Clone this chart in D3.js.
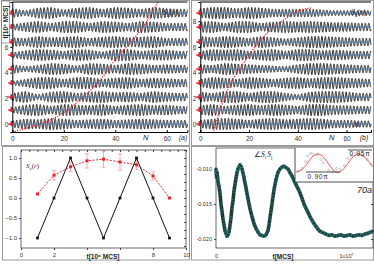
<!DOCTYPE html>
<html>
<head>
<meta charset="utf-8">
<script src="https://cdn.jsdelivr.net/npm/d3@7"></script>
<style>
  body { margin: 0; background: #fff; }
  svg { display: block; font-family: "Liberation Sans", Arial, sans-serif; }
</style>
</head>
<body>
<div id="chart"></div>
<script>
// ---- data ----
// panels (a),(b): time of each row [10^6 MCS]
const rowTimes = [0, 1.09, 2.1, 3.19, 4.28, 5.37, 6.38, 7.55, 8.64];
// envelope of Sz(r) oscillation for each row, sampled at N = 0,5,10,...,70
const envN = [0, 5, 10, 15, 20, 25, 30, 35, 40, 45, 50, 55, 60, 65, 70];
const envA = [
  [0.25, 0.4, 0.35, 0.45, 0.4, 0.3, 0.35, 0.4, 0.3, 0.35, 0.4, 0.35, 0.3, 0.3, 0.3],
  [0.2, 0.4, 0.45, 0.3, 0.45, 0.4, 0.35, 0.45, 0.3, 0.4, 0.45, 0.35, 0.4, 0.3, 0.3],
  [0.3, 0.45, 0.2, 0.4, 0.45, 0.3, 0.4, 0.45, 0.35, 0.4, 0.3, 0.45, 0.35, 0.3, 0.3],
  [0.15, 0.3, 0.45, 0.45, 0.3, 0.45, 0.45, 0.3, 0.4, 0.45, 0.3, 0.4, 0.35, 0.3, 0.3],
  [0.35, 0.2, 0.3, 0.45, 0.4, 0.25, 0.45, 0.4, 0.3, 0.45, 0.4, 0.3, 0.35, 0.3, 0.3],
  [0.2, 0.35, 0.45, 0.4, 0.3, 0.45, 0.4, 0.25, 0.45, 0.45, 0.3, 0.4, 0.4, 0.3, 0.3],
  [0.35, 0.3, 0.45, 0.35, 0.4, 0.45, 0.3, 0.4, 0.45, 0.35, 0.4, 0.45, 0.3, 0.3, 0.3],
  [0.2, 0.35, 0.45, 0.3, 0.45, 0.45, 0.3, 0.45, 0.4, 0.3, 0.45, 0.4, 0.3, 0.3, 0.3],
  [0.35, 0.2, 0.4, 0.45, 0.25, 0.4, 0.45, 0.3, 0.45, 0.4, 0.3, 0.45, 0.35, 0.3, 0.3]
];
const envB = [
  [0.3, 0.4, 0.45, 0.4, 0.3, 0.4, 0.45, 0.35, 0.4, 0.45, 0.4, 0.3, 0.3, 0.25, 0.25],
  [0.35, 0.45, 0.3, 0.4, 0.45, 0.35, 0.45, 0.4, 0.3, 0.45, 0.45, 0.35, 0.35, 0.3, 0.3],
  [0.4, 0.3, 0.45, 0.45, 0.3, 0.45, 0.45, 0.3, 0.2, 0.4, 0.45, 0.45, 0.4, 0.3, 0.3],
  [0.3, 0.45, 0.4, 0.3, 0.45, 0.4, 0.3, 0.4, 0.45, 0.35, 0.45, 0.45, 0.4, 0.35, 0.3],
  [0.35, 0.3, 0.45, 0.4, 0.35, 0.3, 0.25, 0.2, 0.35, 0.45, 0.45, 0.4, 0.35, 0.3, 0.3],
  [0.3, 0.45, 0.4, 0.45, 0.3, 0.4, 0.45, 0.3, 0.45, 0.45, 0.35, 0.4, 0.35, 0.3, 0.3],
  [0.45, 0.35, 0.45, 0.4, 0.3, 0.45, 0.35, 0.25, 0.35, 0.45, 0.45, 0.4, 0.35, 0.3, 0.3],
  [0.4, 0.45, 0.3, 0.45, 0.45, 0.3, 0.4, 0.45, 0.4, 0.45, 0.4, 0.35, 0.35, 0.3, 0.3],
  [0.35, 0.45, 0.45, 0.35, 0.45, 0.4, 0.3, 0.3, 0.3, 0.3, 0.25, 0.2, 0.2, 0.2, 0.2]
];
const periodA = 1.36, periodB = 1.4;
// red dotted fronts [N, t]
const frontA = [[0, -0.62], [11.9, 0.08], [19.7, 0.86], [27.5, 2.1], [34.1, 3.42], [39.9, 4.98], [45.7, 6.3], [50.8, 7.55], [56.6, 9.5]];
const frontB = [[5.2, -0.7], [8.5, 1.32], [12.6, 3.19], [16.7, 4.44], [22.4, 5.99], [28.7, 7.3], [35.9, 8.33], [41.2, 8.87], [45.4, 9.03]];
const waveTicksX = [0, 20, 40, 60];
const waveTicksYA = [0, 2, 4, 6];
const waveTicksYB = [0, 2, 4, 6, 8];

// panel (c)
const cT = [1, 2, 3, 4, 5, 6, 7, 8, 9];
const cBlack = [-1, 0, 1, 0, -1, 0, 1, 0, -1];
const cRed = [0.1, 0.57, 0.78, 0.93, 0.97, 0.9, 0.83, 0.55, 0.0];
const cErr = [0, 0.12, 0.12, 0.18, 0.2, 0.2, 0.12, 0.1, 0];
const cTicksX = [0, 2, 4, 6, 8, 10];
const cTickLabelsX = [0, 2, 8, 10];
const cTicksY = [-1.0, -0.5, 0.0, 0.5, 1.0];

// panel (d): t [10^6 MCS], angle correlation
const dT = [0, 0.04, 0.08, 0.15, 0.23, 0.31, 0.38, 0.46, 0.54, 0.62, 0.69, 0.77, 0.85, 0.92, 1.0, 1.08, 1.15, 1.23, 1.31, 1.38,
  1.46, 1.54, 1.62, 1.69, 1.77, 1.85, 1.92, 2.0, 2.08, 2.15, 2.23, 2.31, 2.38, 2.46, 2.54, 2.62, 2.77, 2.92, 3.08, 3.23,
  3.38, 3.54, 3.69, 3.85, 4.0, 4.08, 4.15, 4.23, 4.31, 4.38, 4.46, 4.54, 4.62, 4.69, 4.77, 4.92, 5.08, 5.23, 5.38, 5.54,
  5.69, 5.85, 6.0, 6.15, 6.31, 6.46, 6.62, 6.77, 6.92, 7.08, 7.23, 7.38, 7.54, 7.69, 7.85, 8.0, 8.23, 8.46, 8.69, 8.92,
  9.15, 9.38, 9.62, 9.85, 10.08, 10.31, 10.54, 10.77, 11.0, 11.23, 11.46, 11.69, 11.92, 12.05];
const dV = [-0.0100, -0.0112, -0.0105, -0.0118, -0.0125, -0.0135, -0.0150, -0.0160, -0.0172, -0.0180, -0.0188, -0.0192, -0.0196, -0.0194, -0.0190, -0.0180, -0.0170, -0.0155, -0.0145, -0.0132,
  -0.0122, -0.0113, -0.0105, -0.0100, -0.0097, -0.0094, -0.0096, -0.0100, -0.0106, -0.0112, -0.0120, -0.0127, -0.0135, -0.0142, -0.0150, -0.0157, -0.0168, -0.0178, -0.0185, -0.0190,
  -0.0194, -0.0195, -0.0196, -0.0194, -0.0188, -0.0180, -0.0170, -0.0160, -0.0150, -0.0140, -0.0130, -0.0122, -0.0115, -0.0110, -0.0105, -0.0100, -0.0097, -0.0096, -0.0098, -0.0100,
  -0.0105, -0.0110, -0.0116, -0.0122, -0.0128, -0.0134, -0.0142, -0.0150, -0.0156, -0.0162, -0.0168, -0.0173, -0.0178, -0.0182, -0.0186, -0.0189, -0.0191, -0.0193, -0.0195, -0.0194,
  -0.0196, -0.0195, -0.0194, -0.0196, -0.0195, -0.0194, -0.0196, -0.0195, -0.0194, -0.0195, -0.0193, -0.0192, -0.0190, -0.0189];
const dTicksY = [-0.010, -0.015, -0.020];
// inset: angle (units of pi) along chain
const insX = [0, 2, 4, 6, 8, 10, 12, 14, 16, 18, 20];
const insRed = [0.900, 0.912, 0.940, 0.950, 0.930, 0.903, 0.905, 0.932, 0.950, 0.940, 0.915];
const insGrey = [[0.5, 0.903], [1.5, 0.91], [2.5, 0.93], [3, 0.945], [3.8, 0.952], [4.5, 0.949], [5.5, 0.948], [6.5, 0.935], [7, 0.925],
  [8.5, 0.905], [9.5, 0.902], [10.5, 0.91], [11.5, 0.908], [12.5, 0.918], [13.5, 0.938], [14.5, 0.945], [15.5, 0.952], [16.5, 0.949], [17.5, 0.945], [18.5, 0.935], [19.5, 0.922]];

// ---- drawing ----
const W = 374, H = 264;
const svg = d3.select('#chart').append('svg').attr('width', W).attr('height', H);

// panel borders
const frames = [[1.5, 0.5, 188, 145], [191.5, 0.5, 182, 145], [2.5, 146.5, 187, 113.5], [191.5, 146.5, 182, 113.5]];
svg.selectAll('rect.frame').data(frames).enter().append('rect')
  .attr('class', 'frame')
  .attr('x', d => d[0]).attr('y', d => d[1]).attr('width', d => d[2]).attr('height', d => d[3])
  .attr('fill', 'none').attr('stroke', '#9a9a9a').attr('stroke-width', 1);

function szLabel(g, x, y, size) {
  const t = g.append('text').attr('x', x).attr('y', y).attr('font-size', size).attr('fill', '#222')
    .attr('font-family', '"Liberation Serif", serif');
  t.append('tspan').attr('font-style', 'italic').text('S');
  t.append('tspan').attr('font-size', size * 0.7).attr('dy', size * 0.25).text('z');
  t.append('tspan').attr('dy', -size * 0.25).text('(');
  t.append('tspan').attr('font-style', 'italic').text('r');
  t.append('tspan').text(')');
}

function wavePanel(opt) {
  const x = d3.scaleLinear().domain([0, opt.nMax]).range([opt.x0, opt.x1]);
  const y = d3.scaleLinear().domain([-0.62, 9.5]).range([132, 2]);
  const g = svg.append('g');
  const line = d3.line().x(d => x(d[0])).y(d => y(d[1]));

  rowTimes.forEach((t, i) => {
    const env = d3.scaleLinear().domain(envN).range(opt.env[i]).clamp(true);
    const pts = d3.range(0, opt.nMax + 0.001, 0.05).map(n =>
      [n, t + env(n) * Math.sin(2 * Math.PI * n / opt.period + i * 1.7)]);
    g.append('path').attr('d', line(pts)).attr('fill', 'none')
      .attr('stroke', '#1a1a1a').attr('stroke-width', 0.95);
  });
  // blue baselines
  g.selectAll('line.base').data(rowTimes).enter().append('line')
    .attr('x1', x(0)).attr('x2', x(opt.nMax)).attr('y1', d => y(d)).attr('y2', d => y(d))
    .attr('stroke', '#4a7db8').attr('stroke-width', 1);

  // red front
  g.append('path').attr('d', d3.line().curve(d3.curveCatmullRom).x(d => x(d[0])).y(d => y(d[1]))(opt.front))
    .attr('fill', 'none').attr('stroke', '#e8232b').attr('stroke-width', 1.3).attr('stroke-dasharray', '1.2,1.3');

  // axes
  g.append('g').attr('transform', 'translate(0,132)')
    .call(d3.axisBottom(x).tickValues(waveTicksX).tickSize(-2).tickPadding(4))
    .call(a => a.select('.domain').attr('stroke', '#000'))
    .call(a => a.selectAll('text').attr('font-size', 6.5).attr('fill', '#333'));
  g.append('g').attr('transform', `translate(${opt.x0},0)`)
    .call(d3.axisLeft(y).tickValues(opt.ticksY).tickSize(2).tickPadding(2).tickFormat(d3.format('d')))
    .call(a => a.select('.domain').attr('stroke', '#000'))
    .call(a => a.selectAll('text').attr('font-size', 6.5).attr('fill', '#333'));
  g.append('line').attr('x1', opt.x0).attr('x2', opt.x1).attr('y1', 2).attr('y2', 2).attr('stroke', '#000');

  // red markers at the left of each row
  rowTimes.forEach(t => {
    const yy = y(t);
    g.append('line').attr('x1', opt.x0 - 4).attr('x2', opt.x0 + 1).attr('y1', yy).attr('y2', yy)
      .attr('stroke', '#e8232b').attr('stroke-width', 1.6);
    g.append('line').attr('x1', opt.x0 - 1).attr('x2', opt.x0 - 1).attr('y1', yy - 3).attr('y2', yy + 2)
      .attr('stroke', '#e8232b').attr('stroke-width', 1.6);
  });

  g.append('text').attr('x', opt.nLabelX).attr('y', 140).attr('font-size', 7.5).attr('font-style', 'italic')
    .attr('fill', '#222').text('N');
  g.append('text').attr('x', opt.tagX).attr('y', 140).attr('font-size', 7).attr('font-style', 'italic')
    .attr('fill', '#222').attr('text-anchor', 'middle').text(opt.tag);
  szLabel(g, opt.szX, 15, 8);
  return g;
}

const ga = wavePanel({ x0: 12.3, x1: 187.4, nMax: 68, env: envA, period: periodA, front: frontA,
  ticksY: waveTicksYA, nLabelX: 143, tagX: 183, tag: '(a)', szX: 163 });
ga.append('rect').attr('x', 1.5).attr('y', 1).attr('width', 8).attr('height', 42).attr('fill', '#fff')
  .attr('stroke', '#666').attr('stroke-width', 0.6);
ga.append('text').attr('transform', 'translate(8,22) rotate(-90)').attr('text-anchor', 'middle')
  .attr('font-size', 6.5).attr('font-weight', 'bold').attr('fill', '#222').text('t[10⁶ MCS]');

const gb = wavePanel({ x0: 200.3, x1: 371, nMax: 70, env: envB, period: periodB, front: frontB,
  ticksY: waveTicksYB, nLabelX: 329, tagX: 364, tag: '(b)', szX: 351 });
gb.append('text').attr('x', 354).attr('y', 127).attr('font-size', 7).attr('font-style', 'italic')
  .attr('fill', '#222').text('N');

// ---- panel (c) ----
{
  const x = d3.scaleLinear().domain([0, 10]).range([21, 186]);
  const y = d3.scaleLinear().domain([-1.25, 1.2]).range([248, 150]);
  const g = svg.append('g');
  g.append('rect').attr('x', 21).attr('y', 150).attr('width', 165).attr('height', 98)
    .attr('fill', 'none').attr('stroke', '#444').attr('stroke-width', 0.8);
  g.append('g').attr('transform', 'translate(0,248)')
    .call(d3.axisBottom(x).tickValues(cTicksX).tickSize(2).tickPadding(3)
      .tickFormat(d => cTickLabelsX.includes(d) ? d : ''))
    .call(a => a.select('.domain').remove())
    .call(a => a.selectAll('text').attr('font-size', 6).attr('fill', '#333'));
  g.append('g').attr('transform', 'translate(0,150)')
    .call(d3.axisBottom(x).ticks(20).tickSize(2).tickFormat(''))
    .call(a => a.select('.domain').remove());
  g.append('g').attr('transform', 'translate(21,0)')
    .call(d3.axisLeft(y).tickValues(cTicksY).tickSize(2).tickPadding(2).tickFormat(d3.format('.1f')))
    .call(a => a.select('.domain').remove())
    .call(a => a.selectAll('text').attr('font-size', 6).attr('fill', '#333'));
  g.append('g').attr('transform', 'translate(186,0)')
    .call(d3.axisLeft(y).ticks(10).tickSize(2).tickFormat(''))
    .call(a => a.select('.domain').remove());
  g.selectAll('.tick line').attr('stroke', '#444');

  // red dashed with error bars
  const red = cT.map((t, i) => [t, cRed[i], cErr[i]]);
  g.selectAll('g.err').data(red.filter(d => d[2] > 0)).enter().append('path')
    .attr('d', d => `M${x(d[0]) - 2},${y(d[1] + d[2])}H${x(d[0]) + 2}M${x(d[0])},${y(d[1] + d[2])}V${y(d[1] - d[2])}M${x(d[0]) - 2},${y(d[1] - d[2])}H${x(d[0]) + 2}`)
    .attr('stroke', '#f19a9a').attr('stroke-width', 0.8).attr('fill', 'none');
  g.append('path').attr('d', d3.line().x(d => x(d[0])).y(d => y(d[1]))(red))
    .attr('fill', 'none').attr('stroke', '#e8232b').attr('stroke-width', 1).attr('stroke-dasharray', '2,1.5');
  g.selectAll('rect.rp').data(red).enter().append('rect')
    .attr('x', d => x(d[0]) - 1.5).attr('y', d => y(d[1]) - 1.5).attr('width', 3).attr('height', 3)
    .attr('fill', '#e8232b');

  const blk = cT.map((t, i) => [t, cBlack[i]]);
  g.append('path').attr('d', d3.line().x(d => x(d[0])).y(d => y(d[1]))(blk))
    .attr('fill', 'none').attr('stroke', '#111').attr('stroke-width', 1);
  g.selectAll('rect.bp').data(blk).enter().append('rect')
    .attr('x', d => x(d[0]) - 1.4).attr('y', d => y(d[1]) - 1.4).attr('width', 2.8).attr('height', 2.8)
    .attr('fill', '#111');

  szLabel(g, 26, 168, 7);
  g.append('text').attr('x', 103).attr('y', 259).attr('text-anchor', 'middle').attr('font-size', 6.5)
    .attr('font-weight', 'bold').attr('fill', '#222').text('t[10⁶ MCS]');
}

// ---- panel (d) ----
{
  const x = d3.scaleLinear().domain([0, 12.08]).range([216, 373]);
  const y = d3.scaleLinear().domain([-0.02129, -0.007]).range([248, 148]);
  const g = svg.append('g');
  g.append('rect').attr('x', 216).attr('y', 148).attr('width', 157).attr('height', 100)
    .attr('fill', 'none').attr('stroke', '#444').attr('stroke-width', 0.8);
  g.append('g').attr('transform', 'translate(216,0)')
    .call(d3.axisLeft(y).tickValues(dTicksY).tickSize(2).tickPadding(2).tickFormat(d3.format('.3f')))
    .call(a => a.select('.domain').remove())
    .call(a => a.selectAll('text').attr('font-size', 5.5).attr('fill', '#333').text(d => d3.format('.3f')(d).replace('−', '-')));
  g.append('g').attr('transform', 'translate(373,0)')
    .call(d3.axisLeft(y).tickValues(dTicksY).tickSize(2).tickFormat(''))
    .call(a => a.select('.domain').remove());
  g.append('g').attr('transform', 'translate(0,248)')
    .call(d3.axisBottom(x).tickValues([0, 10]).tickSize(0).tickPadding(6).tickFormat(d => d === 0 ? '0' : '1x10⁷'))
    .call(a => a.select('.domain').remove())
    .call(a => a.selectAll('text').attr('font-size', 5.5).attr('fill', '#333'));
  g.selectAll('.tick line').attr('stroke', '#444');

  const pts = dT.map((t, i) => [t, dV[i]]);
  g.append('path').attr('d', d3.line().x(d => x(d[0])).y(d => y(d[1]))(pts))
    .attr('fill', 'none').attr('stroke', '#1e3b38').attr('stroke-width', 3.6).attr('stroke-linejoin', 'round');
  g.selectAll('circle.dp').data(pts).enter().append('circle')
    .attr('cx', d => x(d[0])).attr('cy', d => y(d[1])).attr('r', 1.5)
    .attr('fill', '#17302e').attr('stroke', '#3aa5a0').attr('stroke-width', 0.5);

  g.append('text').attr('x', 283).attr('y', 259).attr('text-anchor', 'middle').attr('font-size', 6.5)
    .attr('font-weight', 'bold').attr('fill', '#222').text('t[MCS]');

  // angle label
  const lab = g.append('text').attr('x', 254).attr('y', 157).attr('font-size', 7.5).attr('fill', '#222')
    .attr('font-family', '"Liberation Serif", serif');
  lab.append('tspan').text('∠');
  lab.append('tspan').attr('font-style', 'italic').text('S');
  lab.append('tspan').attr('font-size', 5).attr('dy', 2).text('i');
  lab.append('tspan').attr('font-style', 'italic').attr('dy', -2).attr('dx', 1).text('S');
  lab.append('tspan').attr('font-size', 5).attr('dy', 2).text('j');

  // inset
  const ix = d3.scaleLinear().domain([0, 20]).range([296, 373]);
  const iy = d3.scaleLinear().domain([0.895, 0.956]).range([174, 152]);
  g.append('rect').attr('x', 295).attr('y', 148).attr('width', 78).attr('height', 34).attr('fill', '#fff');
  g.append('path').attr('d', 'M295,148V182H373').attr('fill', 'none').attr('stroke', '#222').attr('stroke-width', 0.8);
  g.selectAll('circle.ig').data(insGrey).enter().append('circle')
    .attr('cx', d => ix(d[0])).attr('cy', d => iy(d[1])).attr('r', 1.1)
    .attr('fill', 'none').attr('stroke', '#aaa').attr('stroke-width', 0.6);
  g.append('path').attr('d', d3.line().curve(d3.curveNatural).x((d, i) => ix(insX[i])).y(d => iy(d))(insRed))
    .attr('fill', 'none').attr('stroke', '#e8464a').attr('stroke-width', 0.9);
  g.append('line').attr('x1', 306).attr('x2', 340).attr('y1', 172).attr('y2', 172).attr('stroke', '#222').attr('stroke-width', 0.8);
  g.append('line').attr('x1', 348).attr('x2', 372).attr('y1', 150).attr('y2', 150).attr('stroke', '#222').attr('stroke-width', 0.8);
  g.append('text').attr('x', 318).attr('y', 179).attr('text-anchor', 'middle').attr('font-size', 6.5)
    .attr('letter-spacing', 0.8).attr('fill', '#222').text('0.90π');
  g.append('text').attr('x', 360).attr('y', 156).attr('text-anchor', 'middle').attr('font-size', 6.5)
    .attr('letter-spacing', 0.8).attr('fill', '#222').text('0.95π');
  g.append('text').attr('x', 372).attr('y', 193).attr('text-anchor', 'end').attr('font-size', 9)
    .attr('font-style', 'italic').attr('fill', '#222').text('70a');
}
</script>
</body>
</html>
